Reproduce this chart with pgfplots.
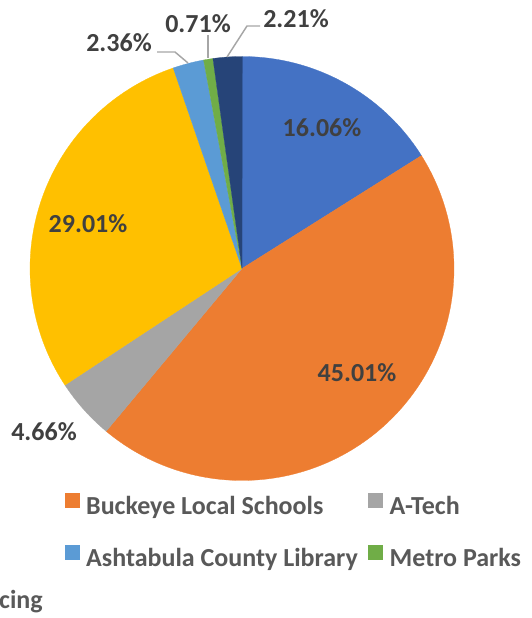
\documentclass[border=0pt]{standalone}
\usepackage{pgfplots}
\pgfplotsset{compat=1.18}
\usepackage{fontspec}
\setmainfont{Carlito}
\definecolor{cBlue}{HTML}{4472C4}
\definecolor{cOrange}{HTML}{ED7D31}
\definecolor{cGray}{HTML}{A5A5A5}
\definecolor{cYellow}{HTML}{FFC000}
\definecolor{cLBlue}{HTML}{5B9BD5}
\definecolor{cGreen}{HTML}{70AD47}
\definecolor{cDBlue}{HTML}{264478}
\definecolor{labtext}{HTML}{404040}
\definecolor{legtext}{HTML}{595959}
\definecolor{leader}{HTML}{A6A6A6}
% shares in percent, clockwise from 12 o'clock
\def\pA{16.06}
\def\pB{45.01}
\def\pC{4.66}
\def\pD{29.01}
\def\pE{2.36}
\def\pF{0.71}
\def\pG{2.21}
\pgfmathsetmacro\aA{90}
\pgfmathsetmacro\aB{\aA-3.6*\pA}
\pgfmathsetmacro\aC{\aB-3.6*\pB}
\pgfmathsetmacro\aD{\aC-3.6*\pC}
\pgfmathsetmacro\aE{\aD-3.6*\pD}
\pgfmathsetmacro\aF{\aE-3.6*\pE}
\pgfmathsetmacro\aG{\aF-3.6*\pF}
\pgfmathsetmacro\aH{\aG-3.6*\pG}
\newcommand\lfont{\fontsize{19.5}{23}\selectfont\bfseries}
\begin{document}
\begin{tikzpicture}
\useasboundingbox (0,0) rectangle (399pt,463.5pt);
\clip (0,0) rectangle (399pt,463.5pt);
\begin{axis}[
  at={(0,0)}, anchor=south west,
  scale only axis, width=399pt, height=463.5pt,
  xmin=0, xmax=532, ymin=0, ymax=618,
  hide axis, clip=false,
  legend columns=2,
  legend image code/.code={\fill[#1] (0pt,0.5pt) rectangle (10.5pt,11pt);},
  legend style={draw=none, fill=none, inner sep=0pt, outer sep=0pt,
    at={(axis cs:65,125)}, anchor=north west,
    font=\lfont, text=legtext,
    nodes={inner sep=0pt, outer sep=0pt, text height=15pt, text depth=5pt},
    row sep=17.5pt,
    /tikz/every odd column/.append style={column sep=5pt},
    /tikz/every even column/.append style={column sep=8pt}},
  legend cell align=left,
]
\addplot[fill=cBlue, draw=cBlue, line width=0.2pt, domain=\aB:\aA, samples=60, variable=\t, forget plot] ({242+212*cos(\t)},{349.5+212*sin(\t)}) -- (axis cs:242,349.5) -- cycle;
\addplot[fill=cOrange, draw=cOrange, line width=0.2pt, domain=\aC:\aB, samples=120, variable=\t, forget plot] ({242+212*cos(\t)},{349.5+212*sin(\t)}) -- (axis cs:242,349.5) -- cycle;
\addplot[fill=cGray, draw=cGray, line width=0.2pt, domain=\aD:\aC, samples=20, variable=\t, forget plot] ({242+212*cos(\t)},{349.5+212*sin(\t)}) -- (axis cs:242,349.5) -- cycle;
\addplot[fill=cYellow, draw=cYellow, line width=0.2pt, domain=\aE:\aD, samples=80, variable=\t, forget plot] ({242+212*cos(\t)},{349.5+212*sin(\t)}) -- (axis cs:242,349.5) -- cycle;
\addplot[fill=cLBlue, draw=cLBlue, line width=0.2pt, domain=\aF:\aE, samples=10, variable=\t, forget plot] ({242+212*cos(\t)},{349.5+212*sin(\t)}) -- (axis cs:242,349.5) -- cycle;
\addplot[fill=cGreen, draw=cGreen, line width=0.2pt, domain=\aG:\aF, samples=5, variable=\t, forget plot] ({242+212*cos(\t)},{349.5+212*sin(\t)}) -- (axis cs:242,349.5) -- cycle;
\addplot[fill=cDBlue, draw=cDBlue, line width=0.2pt, domain=\aH:\aG, samples=10, variable=\t, forget plot] ({242+212*cos(\t)},{349.5+212*sin(\t)}) -- (axis cs:242,349.5) -- cycle;

\addlegendimage{cOrange}\addlegendentry{Buckeye Local Schools}
\addlegendimage{cGray}\addlegendentry{A-Tech}
\addlegendimage{cLBlue}\addlegendentry{Ashtabula County Library}
\addlegendimage{cGreen}\addlegendentry{Metro Parks}

% leader lines
\draw[leader, line width=1.1pt] (axis cs:157,566) -- (axis cs:175,566) -- (axis cs:188,555);
\draw[leader, line width=1.1pt] (axis cs:208,583) -- (axis cs:208,560);
\draw[leader, line width=1.1pt] (axis cs:260,592) -- (axis cs:247,592) -- (axis cs:227,561);

% data labels
\begin{scope}[every node/.style={font=\lfont, text=labtext, inner sep=0pt, anchor=base}]
\node at (axis cs:322,481) {16.06\%};
\node at (axis cs:357,236) {45.01\%};
\node at (axis cs:88,385) {29.01\%};
\node at (axis cs:44,177) {4.66\%};
\node at (axis cs:119,566) {2.36\%};
\node at (axis cs:198,585) {0.71\%};
\node at (axis cs:296,590) {2.21\%};
\node[text=legtext, anchor=base east] at (axis cs:43,10) {cing};
\end{scope}
\end{axis}
\end{tikzpicture}
\end{document}
